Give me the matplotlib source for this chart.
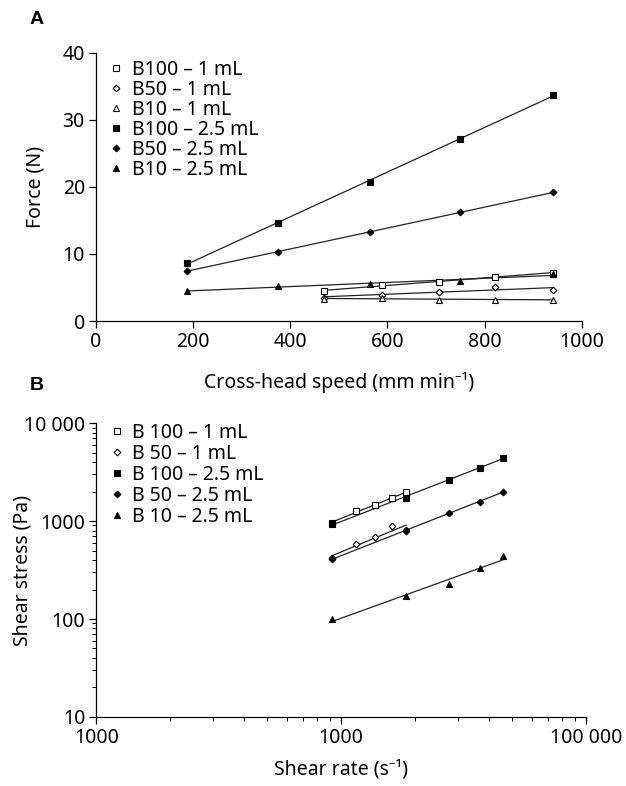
import numpy as np
import matplotlib
matplotlib.use("Agg")
import matplotlib.pyplot as plt
from matplotlib.ticker import FixedLocator, FixedFormatter, LogLocator, NullFormatter

plt.rcParams['font.family'] = ['Noto Sans', 'DejaVu Sans']
plt.rcParams['font.size'] = 14

# --- Panel A: force vs cross-head speed ---
speed_2p5 = [188, 375, 563, 750, 940]
speed_1 = [470, 588, 705, 822, 940]
force_b100_1 = [4.5, 5.4, 5.8, 6.6, 7.2]
force_b50_1 = [3.5, 3.9, 4.4, 5.1, 4.6]
force_b10_1 = [3.3, 3.5, 3.1, 3.2, 3.2]
force_b100_2p5 = [8.7, 14.6, 20.8, 27.2, 33.7]
force_b50_2p5 = [7.5, 10.3, 13.3, 16.2, 19.2]
force_b10_2p5 = [4.5, 5.2, 5.5, 6.0, 7.0]
labels_a = ["B100 – 1 mL", "B50 – 1 mL", "B10 – 1 mL",
            "B100 – 2.5 mL", "B50 – 2.5 mL", "B10 – 2.5 mL"]

# --- Panel B: shear stress vs shear rate ---
rate_1 = [9200, 11500, 13800, 16100, 18400]
rate_2p5 = [9200, 18400, 27600, 36800, 46000]
stress_b100_1 = [960, 1274, 1450, 1700, 1977]
stress_b50_1 = [420, 582, 682, 890, 809]
stress_b100_2p5 = [930, 1730, 2620, 3500, 4430]
stress_b50_2p5 = [410, 796, 1216, 1574, 1990]
stress_b10_2p5 = [99, 173, 228, 329, 440]
labels_b = ["B 100 – 1 mL", "B 50 – 1 mL", "B 100 – 2.5 mL",
            "B 50 – 2.5 mL", "B 10 – 2.5 mL"]

OPEN = dict(color="black", mfc="white", mec="black", mew=0.8)
FILL = dict(color="black", mfc="black", mec="black", mew=0.8)
LINE = dict(color="#222222", lw=0.9, zorder=2)


def style_axes(ax):
    for side in ("top", "right"):
        ax.spines[side].set_visible(False)
    for side in ("left", "bottom"):
        ax.spines[side].set_linewidth(0.9)
    ax.tick_params(which="major", direction="out", length=5, width=0.9, pad=3)
    ax.tick_params(which="minor", direction="out", length=3, width=0.7)


fig = plt.figure(figsize=(6.26, 7.86), dpi=100)

# Panel A
axA = fig.add_axes([0.1534, 0.5916, 0.776, 0.341])
series_a = [
    (speed_1, force_b100_1, "s", OPEN, 3.8),
    (speed_1, force_b50_1, "D", OPEN, 3.4),
    (speed_1, force_b10_1, "^", OPEN, 4.0),
    (speed_2p5, force_b100_2p5, "s", FILL, 4.0),
    (speed_2p5, force_b50_2p5, "D", FILL, 3.4),
    (speed_2p5, force_b10_2p5, "^", FILL, 4.4),
]
handles = []
for (x, y, m, st, ms), lab in zip(series_a, labels_a):
    x = np.array(x, float)
    k, b = np.polyfit(x, y, 1)
    xx = np.array([x.min(), x.max()])
    axA.plot(xx, k * xx + b, **LINE)
    h, = axA.plot(x, y, ls="none", marker=m, ms=ms, zorder=3, label=lab, **st)
    handles.append(h)

axA.set_xlim(0, 1000)
axA.set_ylim(0, 40)
axA.set_xticks([0, 200, 400, 600, 800, 1000])
axA.set_yticks([0, 10, 20, 30, 40])
style_axes(axA)
axA.set_xlabel("Cross-head speed (mm min⁻¹)")
axA.set_ylabel("Force (N)")
axA.xaxis.set_label_coords(0.5, -0.19)
axA.yaxis.set_label_coords(-0.105, 0.5)
axA.legend(handles=handles, loc="upper left", bbox_to_anchor=(0.03, 0.975),
           frameon=False, handlelength=0.6, handletextpad=0.5,
           labelspacing=0.0, borderpad=0, borderaxespad=0, numpoints=1)

# Panel B
axB = fig.add_axes([0.154, 0.0878, 0.782, 0.374])
series_b = [
    (rate_1, stress_b100_1, "s", OPEN, 3.8),
    (rate_1, stress_b50_1, "D", OPEN, 3.4),
    (rate_2p5, stress_b100_2p5, "s", FILL, 4.0),
    (rate_2p5, stress_b50_2p5, "D", FILL, 3.4),
    (rate_2p5, stress_b10_2p5, "^", FILL, 4.4),
]
handles = []
for (x, y, m, st, ms), lab in zip(series_b, labels_b):
    lx, ly = np.log10(x), np.log10(y)
    k, b = np.polyfit(lx, ly, 1)
    xx = np.array([lx.min(), lx.max()])
    axB.plot(10 ** xx, 10 ** (k * xx + b), **LINE)
    h, = axB.plot(x, y, ls="none", marker=m, ms=ms, zorder=3, label=lab, **st)
    handles.append(h)

axB.set_xscale("log")
axB.set_yscale("log")
axB.set_xlim(1000, 100000)
axB.set_ylim(10, 10000)
axB.xaxis.set_major_locator(FixedLocator([1000, 10000, 100000]))
axB.xaxis.set_major_formatter(FixedFormatter(["1000", "1000", "100 000"]))
axB.yaxis.set_major_locator(FixedLocator([10, 100, 1000, 10000]))
axB.yaxis.set_major_formatter(FixedFormatter(["10", "100", "1000", "10 000"]))
for axis in (axB.xaxis, axB.yaxis):
    axis.set_minor_locator(LogLocator(base=10, subs=np.arange(2, 10)))
    axis.set_minor_formatter(NullFormatter())
style_axes(axB)
axB.set_xlabel("Shear rate (s⁻¹)")
axB.set_ylabel("Shear stress (Pa)")
axB.xaxis.set_label_coords(0.5, -0.145)
axB.yaxis.set_label_coords(-0.13, 0.5)
axB.legend(handles=handles, loc="upper left", bbox_to_anchor=(0.03, 1.0),
           frameon=False, handlelength=0.6, handletextpad=0.5,
           labelspacing=0.05, borderpad=0, borderaxespad=0, numpoints=1)

fig.text(30 / 626, 1 - 20 / 786, "A", fontsize=14, fontweight="bold",
         family=["Liberation Sans", "DejaVu Sans"], va="center")
fig.text(30 / 626, 1 - 385 / 786, "B", fontsize=14, fontweight="bold",
         family=["Liberation Sans", "DejaVu Sans"], va="center")

fig.savefig("out.png", dpi=100)
